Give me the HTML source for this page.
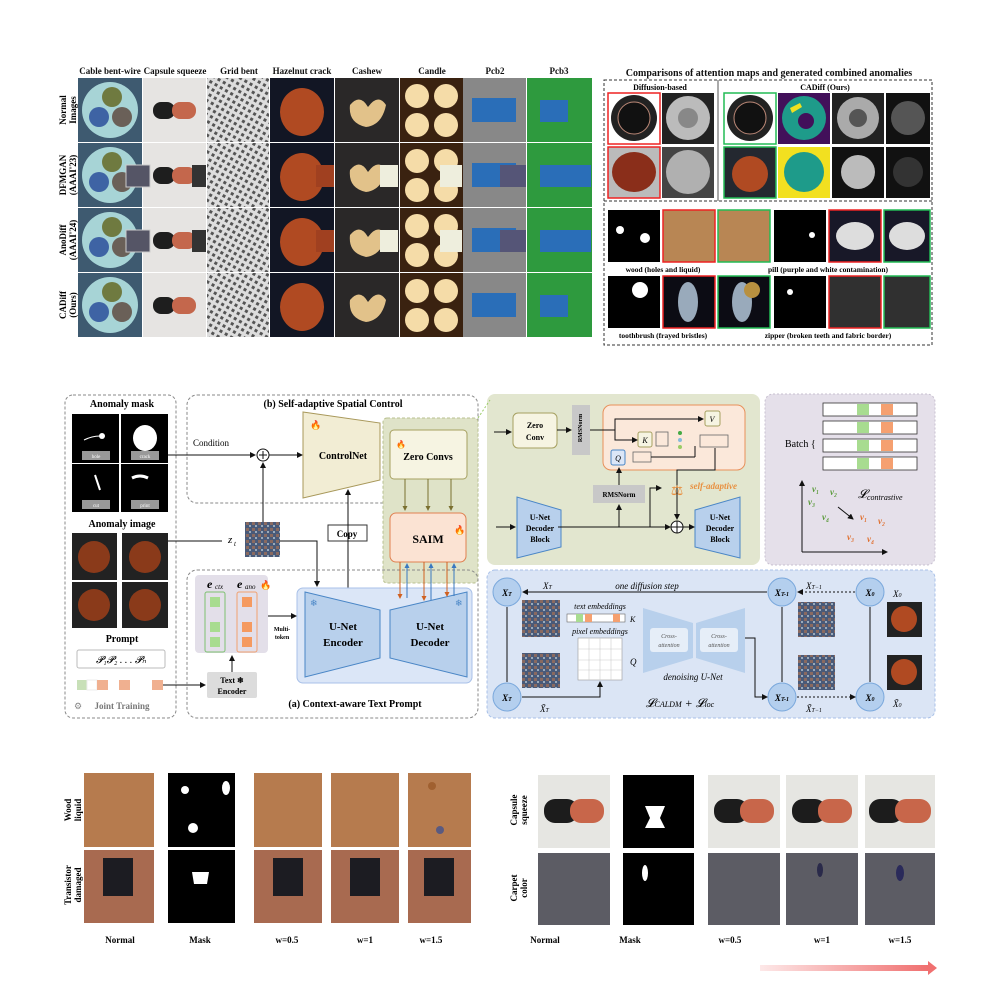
<!DOCTYPE html>
<html><head><meta charset="utf-8"><style>
body{margin:0;width:1000px;height:1000px;background:#fff;position:relative;overflow:hidden;font-family:"Liberation Serif",serif}
.a{position:absolute}
.h{position:absolute;font-weight:bold;font-size:9px;text-align:center;color:#111}
.rl{position:absolute;font-weight:bold;font-size:9px;transform:rotate(-90deg);text-align:center;width:64px;line-height:10px}
</style></head><body>
<!-- TOP LEFT GRID -->
<div class="h" style="left:78px;top:66px;width:64px">Cable bent-wire</div>
<div class="h" style="left:143px;top:66px;width:64px">Capsule squeeze</div>
<div class="h" style="left:207px;top:66px;width:64px">Grid bent</div>
<div class="h" style="left:270px;top:66px;width:64px">Hazelnut crack</div>
<div class="h" style="left:335px;top:66px;width:64px">Cashew</div>
<div class="h" style="left:400px;top:66px;width:64px">Candle</div>
<div class="h" style="left:463px;top:66px;width:64px">Pcb2</div>
<div class="h" style="left:527px;top:66px;width:64px">Pcb3</div>
<div class="rl" style="left:36px;top:100px">Normal<br>Images</div>
<div class="rl" style="left:36px;top:165px">DFMGAN<br>(AAAI'23)</div>
<div class="rl" style="left:36px;top:230px">AnoDiff<br>(AAAI'24)</div>
<div class="rl" style="left:36px;top:295px">CADiff<br>(Ours)</div>
<svg class="a" style="left:0;top:0" width="1000" height="345">
<defs>
<pattern id="grd" width="6" height="6" patternUnits="userSpaceOnUse" patternTransform="rotate(30)"><rect width="6" height="6" fill="#ddd"/><rect width="3" height="3" fill="#555"/></pattern>
</defs>
<g id="row">
</g>
</svg>
<svg class="a" style="left:0;top:0" width="1000" height="345" id="grid">
<!-- generated rows -->
<g>
<!-- row template using transforms -->
<g id="r0">
<rect x="78" y="78" width="64" height="64" fill="#3e5a70"/><circle cx="110" cy="110" r="28" fill="#a7d4d6"/><circle cx="112" cy="97" r="10" fill="#6f7a40"/><circle cx="99" cy="117" r="10" fill="#3e63a4"/><circle cx="122" cy="117" r="10" fill="#6a6058"/>
<rect x="143" y="78" width="63" height="64" fill="#e6e4e2"/><rect x="153" y="102" width="22" height="17" rx="8" fill="#1e1e1e"/><rect x="172" y="102" width="24" height="17" rx="8" fill="#c4674c"/>
<rect x="207" y="78" width="62" height="64" fill="url(#grd)"/>
<rect x="270" y="78" width="64" height="64" fill="#121624"/><ellipse cx="302" cy="112" rx="22" ry="24" fill="#b04a22"/>
<rect x="335" y="78" width="64" height="64" fill="#2a2828"/><path d="M350 105 q10 -12 18 2 q10 -14 18 -2 q-4 20 -20 22 q-18 -4 -16 -22z" fill="#e2c28a"/>
<rect x="400" y="78" width="63" height="64" fill="#3a2210"/><circle cx="417" cy="96" r="12" fill="#f5dca8"/><circle cx="446" cy="96" r="12" fill="#f5dca8"/><circle cx="417" cy="125" r="12" fill="#f5dca8"/><circle cx="446" cy="125" r="12" fill="#f5dca8"/>
<rect x="463" y="78" width="63" height="64" fill="#888"/><rect x="472" y="98" width="44" height="24" fill="#2a6eb8"/>
<rect x="527" y="78" width="65" height="64" fill="#2e9a3e"/><rect x="540" y="100" width="28" height="22" fill="#2a6eb8"/>
</g>
<use href="#r0" y="65"/><use href="#r0" y="130"/><use href="#r0" y="195"/>
<rect x="126" y="165" width="24" height="22" fill="#556" stroke="#ccc"/><rect x="192" y="165" width="14" height="22" fill="#333"/><rect x="316" y="165" width="18" height="22" fill="#a04020"/><rect x="380" y="165" width="18" height="22" fill="#eed" /><rect x="440" y="165" width="22" height="22" fill="#eed"/><rect x="500" y="165" width="26" height="22" fill="#557"/><rect x="565" y="165" width="26" height="22" fill="#2a6eb8"/>
<rect x="126" y="230" width="24" height="22" fill="#556" stroke="#ccc"/><rect x="192" y="230" width="14" height="22" fill="#333"/><rect x="316" y="230" width="18" height="22" fill="#a04020"/><rect x="380" y="230" width="18" height="22" fill="#eed"/><rect x="440" y="230" width="22" height="22" fill="#eed"/><rect x="500" y="230" width="26" height="22" fill="#557"/><rect x="565" y="230" width="26" height="22" fill="#2a6eb8"/>
</g>
</svg>
<!-- TOP RIGHT -->
<div class="h" style="left:604px;top:68px;width:330px;font-size:10px">Comparisons of attention maps and generated combined anomalies</div>
<svg class="a" style="left:0;top:0" width="1000" height="350">
<rect x="604" y="80" width="328" height="265" fill="none" stroke="#333" stroke-dasharray="3,2"/>
<line x1="604" y1="201" x2="932" y2="201" stroke="#333" stroke-dasharray="3,2"/>
<line x1="718" y1="80" x2="718" y2="201" stroke="#555"/>
<text x="660" y="90" font-size="8" font-weight="bold" text-anchor="middle">Diffusion-based</text>
<text x="825" y="90" font-size="8" font-weight="bold" text-anchor="middle">CADiff (Ours)</text>
<g>
<rect x="608" y="93" width="52" height="51" fill="#fff" stroke="#e22" stroke-width="1.5"/><circle cx="634" cy="118" r="23" fill="#222"/><circle cx="634" cy="118" r="16" fill="#111" stroke="#b87" />
<rect x="662" y="93" width="52" height="51" fill="#222"/><circle cx="688" cy="118" r="22" fill="#bbb"/><circle cx="688" cy="118" r="10" fill="#888"/>
<rect x="608" y="147" width="52" height="51" fill="#bbb" stroke="#e22" stroke-width="1.5"/><ellipse cx="634" cy="172" rx="22" ry="20" fill="#8a2e1a"/>
<rect x="662" y="147" width="52" height="51" fill="#444"/><circle cx="688" cy="172" r="22" fill="#b0b0b0"/>
<rect x="724" y="93" width="52" height="51" fill="#fff" stroke="#2b5" stroke-width="1.5"/><circle cx="750" cy="118" r="23" fill="#222"/><circle cx="750" cy="118" r="16" fill="#111" stroke="#b87"/>
<rect x="778" y="93" width="52" height="51" fill="#42105a"/><circle cx="804" cy="118" r="22" fill="#1e9b8a"/><circle cx="806" cy="121" r="8" fill="#42105a"/><path d="M790 108 l10 -5 l2 4 l-10 6z" fill="#f0e020"/>
<rect x="832" y="93" width="52" height="51" fill="#222"/><circle cx="858" cy="118" r="21" fill="#aaa"/><circle cx="858" cy="118" r="9" fill="#555"/>
<rect x="886" y="93" width="44" height="51" fill="#111"/><circle cx="908" cy="118" r="17" fill="#555"/>
<rect x="724" y="147" width="52" height="51" fill="#242830" stroke="#2b5" stroke-width="1.5"/><circle cx="750" cy="174" r="18" fill="#b04a22"/>
<rect x="778" y="147" width="52" height="51" fill="#f2e020"/><circle cx="804" cy="172" r="20" fill="#1e9b8a"/>
<rect x="832" y="147" width="52" height="51" fill="#111"/><circle cx="858" cy="172" r="17" fill="#bbb"/>
<rect x="886" y="147" width="44" height="51" fill="#111"/><circle cx="908" cy="172" r="15" fill="#333"/>
</g>
<g>
<rect x="608" y="210" width="52" height="52" fill="#000"/><circle cx="620" cy="230" r="4" fill="#fff"/><circle cx="645" cy="238" r="5" fill="#fff"/>
<rect x="663" y="210" width="52" height="52" fill="#b88654" stroke="#e22" stroke-width="1.5"/>
<rect x="718" y="210" width="52" height="52" fill="#b88654" stroke="#2b5" stroke-width="1.5"/>
<rect x="774" y="210" width="52" height="52" fill="#000"/><circle cx="812" cy="235" r="3" fill="#fff"/>
<rect x="829" y="210" width="52" height="52" fill="#181828" stroke="#e22" stroke-width="1.5"/><ellipse cx="855" cy="236" rx="19" ry="14" fill="#ddd"/>
<rect x="884" y="210" width="46" height="52" fill="#181828" stroke="#2b5" stroke-width="1.5"/><ellipse cx="907" cy="236" rx="18" ry="14" fill="#ddd"/>
<text x="663" y="272" font-size="7.5" font-weight="bold" text-anchor="middle">wood (holes and liquid)</text>
<text x="828" y="272" font-size="7.5" font-weight="bold" text-anchor="middle">pill (purple and white contamination)</text>
<rect x="608" y="276" width="52" height="52" fill="#000"/><circle cx="640" cy="290" r="8" fill="#fff"/>
<rect x="663" y="276" width="52" height="52" fill="#0c0c14" stroke="#e22" stroke-width="1.5"/><ellipse cx="688" cy="302" rx="10" ry="20" fill="#9ab"/>
<rect x="718" y="276" width="52" height="52" fill="#0c0c14" stroke="#2b5" stroke-width="1.5"/><ellipse cx="742" cy="302" rx="10" ry="20" fill="#9ab"/><circle cx="752" cy="290" r="8" fill="#b89040"/>
<rect x="774" y="276" width="52" height="52" fill="#000"/><circle cx="790" cy="292" r="3" fill="#fff"/>
<rect x="829" y="276" width="52" height="52" fill="#303030" stroke="#e22" stroke-width="1.5"/>
<rect x="884" y="276" width="46" height="52" fill="#303030" stroke="#2b5" stroke-width="1.5"/>
<text x="663" y="338" font-size="7.5" font-weight="bold" text-anchor="middle">toothbrush (frayed bristles)</text>
<text x="828" y="338" font-size="7.5" font-weight="bold" text-anchor="middle">zipper (broken teeth and fabric border)</text>
</g>
</svg>

<!-- MIDDLE DIAGRAM -->
<svg class="a" style="left:0;top:0" width="1000" height="1000" font-family="Liberation Serif, serif">
<defs>
<marker id="ar" markerWidth="6" markerHeight="6" refX="5" refY="3" orient="auto"><path d="M0 0L6 3L0 6z" fill="#111"/></marker>
<marker id="ao" markerWidth="5" markerHeight="5" refX="4" refY="2.5" orient="auto"><path d="M0 0L5 2.5L0 5z" fill="#d06020"/></marker>
<marker id="ab" markerWidth="5" markerHeight="5" refX="4" refY="2.5" orient="auto"><path d="M0 0L5 2.5L0 5z" fill="#3a78c0"/></marker>
<marker id="ag" markerWidth="5" markerHeight="5" refX="4" refY="2.5" orient="auto"><path d="M0 0L5 2.5L0 5z" fill="#7a7030"/></marker>
<pattern id="nz" width="6" height="6" patternUnits="userSpaceOnUse"><rect width="6" height="6" fill="#4a5a78"/><rect width="3" height="3" fill="#8a6a60"/><rect x="3" y="3" width="2" height="2" fill="#9ab"/></pattern>
</defs>
<!-- left dashed -->
<rect x="65" y="395" width="111" height="323" rx="8" fill="none" stroke="#888" stroke-dasharray="3,2"/>
<text x="122" y="407" font-size="10" font-weight="bold" text-anchor="middle">Anomaly mask</text>
<rect x="72" y="414" width="47" height="49" fill="#000"/><rect x="121" y="414" width="47" height="49" fill="#000"/><rect x="72" y="464" width="47" height="48" fill="#000"/><rect x="121" y="464" width="47" height="48" fill="#000"/>
<circle cx="102" cy="436" r="3" fill="#fff"/><path d="M84 440 q8 -4 16 -4" stroke="#fff" fill="none"/><ellipse cx="145" cy="438" rx="12" ry="13" fill="#fff"/>
<line x1="95" y1="475" x2="100" y2="490" stroke="#fff" stroke-width="2"/><path d="M132 478 q8 -4 16 0" stroke="#fff" stroke-width="3" fill="none"/>
<g font-size="5" fill="#fff" text-anchor="middle"><rect x="82" y="451" width="28" height="9" fill="#999"/><text x="96" y="458">hole</text><rect x="131" y="451" width="28" height="9" fill="#999"/><text x="145" y="458">crack</text><rect x="82" y="500" width="28" height="9" fill="#999"/><text x="96" y="507">cut</text><rect x="131" y="500" width="28" height="9" fill="#999"/><text x="145" y="507">print</text></g>
<text x="122" y="527" font-size="10" font-weight="bold" text-anchor="middle">Anomaly image</text>
<g><rect x="72" y="533" width="45" height="47" fill="#222"/><circle cx="94" cy="557" r="16" fill="#8a3a1a"/><rect x="122" y="533" width="46" height="47" fill="#222"/><circle cx="145" cy="557" r="16" fill="#8a3a1a"/><rect x="72" y="582" width="45" height="46" fill="#222"/><circle cx="94" cy="605" r="16" fill="#8a3a1a"/><rect x="122" y="582" width="46" height="46" fill="#222"/><circle cx="145" cy="605" r="16" fill="#8a3a1a"/></g>
<text x="122" y="642" font-size="10" font-weight="bold" text-anchor="middle">Prompt</text>
<rect x="77" y="650" width="88" height="18" rx="2" fill="#fff" stroke="#bbb"/>
<text x="121" y="663" font-size="10" font-style="italic" text-anchor="middle">𝓟₁𝓟₂ . . . 𝓟ₙ</text>
<g><rect x="77" y="680" width="10" height="10" fill="#c8e0b8"/><rect x="87" y="680" width="10" height="10" fill="#fff" stroke="#eee"/><rect x="97" y="680" width="11" height="10" fill="#f0b090"/><rect x="108" y="680" width="11" height="10" fill="#fff"/><rect x="119" y="680" width="11" height="10" fill="#f0b090"/><rect x="130" y="680" width="11" height="10" fill="#fff"/><rect x="141" y="680" width="11" height="10" fill="#fff"/><rect x="152" y="680" width="11" height="10" fill="#f0b090"/></g>
<text x="74" y="709" font-size="9" fill="#888">⚙</text><text x="122" y="709" font-size="9" font-weight="bold" fill="#777" text-anchor="middle">Joint Training</text>
<line x1="163" y1="685" x2="205" y2="685" stroke="#111" marker-end="url(#ar)"/>
<!-- (b) box -->
<rect x="187" y="395" width="291" height="108" rx="10" fill="none" stroke="#888" stroke-dasharray="3,2"/>
<text x="333" y="407" font-size="10" font-weight="bold" text-anchor="middle">(b) Self-adaptive Spatial Control</text>
<text x="193" y="446" font-size="9">Condition</text>
<line x1="168" y1="455" x2="255" y2="455" stroke="#111" marker-end="url(#ar)"/>
<circle cx="263" cy="455" r="6" fill="#fff" stroke="#111"/><path d="M259 455h8M263 451v8" stroke="#111"/>
<line x1="269" y1="455" x2="302" y2="455" stroke="#111" marker-end="url(#ar)"/>
<path d="M303 412L380 423L380 480L303 498z" fill="#f2edd4" stroke="#a8985a"/>
<text x="343" y="459" font-size="10" font-weight="bold" text-anchor="middle">ControlNet</text>
<text x="310" y="428" font-size="9" fill="#e85a10">🔥</text>
<!-- green zero convs -->
<rect x="383" y="418" width="95" height="165" rx="4" fill="#dfe3c8" stroke="#b8c090" stroke-dasharray="3,2"/>
<rect x="390" y="430" width="77" height="49" rx="4" fill="#f6f4e2" stroke="#a6a060"/>
<text x="428" y="460" font-size="10" font-weight="bold" text-anchor="middle">Zero Convs</text>
<g stroke="#7a7030" marker-end="url(#ag)"><line x1="405" y1="479" x2="405" y2="510"/><line x1="428" y1="479" x2="428" y2="510"/><line x1="451" y1="479" x2="451" y2="510"/></g>
<rect x="390" y="513" width="76" height="49" rx="6" fill="#fbe3d3" stroke="#e08050"/>
<text x="428" y="543" font-size="12" font-weight="bold" text-anchor="middle">SAIM</text>
<text x="454" y="533" font-size="9" fill="#e85a10">🔥</text>
<text x="396" y="447" font-size="8" fill="#e85a10">🔥</text>
<!-- zt -->
<rect x="245" y="522" width="35" height="35" fill="url(#nz)"/>
<text x="228" y="543" font-size="11" font-style="italic">z</text><text x="234" y="546" font-size="7" font-style="italic">t</text>
<line x1="168" y1="541" x2="222" y2="541" stroke="#111"/>
<line x1="263" y1="522" x2="263" y2="463" stroke="#111" marker-end="url(#ar)"/>
<path d="M280 541H317V586" fill="none" stroke="#111" marker-end="url(#ar)"/>
<rect x="328" y="525" width="39" height="16" fill="#fff" stroke="#333"/>
<text x="347" y="537" font-size="9" font-weight="bold" text-anchor="middle">Copy</text>
<line x1="348" y1="588" x2="348" y2="490" stroke="#111" marker-end="url(#ar)"/>
<!-- (a) box -->
<rect x="187" y="570" width="291" height="148" rx="10" fill="none" stroke="#888" stroke-dasharray="3,2"/>
<text x="355" y="707" font-size="10" font-weight="bold" text-anchor="middle">(a) Context-aware Text Prompt</text>
<rect x="297" y="588" width="175" height="95" rx="6" fill="#dbe6f7" stroke="#a8c0e8"/>
<path d="M305 592L380 610L380 658L305 677z" fill="#b8d0ec" stroke="#4a86c6"/>
<path d="M390 610L467 592L467 677L390 658z" fill="#b8d0ec" stroke="#4a86c6"/>
<text x="343" y="630" font-size="11" font-weight="bold" text-anchor="middle">U-Net</text><text x="343" y="646" font-size="11" font-weight="bold" text-anchor="middle">Encoder</text>
<text x="430" y="630" font-size="11" font-weight="bold" text-anchor="middle">U-Net</text><text x="430" y="646" font-size="11" font-weight="bold" text-anchor="middle">Decoder</text>
<text x="310" y="606" font-size="9" fill="#4a86c6">❄</text><text x="455" y="606" font-size="9" fill="#4a86c6">❄</text>
<g stroke-width="1"><line x1="400" y1="562" x2="400" y2="598" stroke="#d06020" marker-end="url(#ao)"/><line x1="407" y1="598" x2="407" y2="564" stroke="#3a78c0" marker-end="url(#ab)"/><line x1="424" y1="562" x2="424" y2="600" stroke="#d06020" marker-end="url(#ao)"/><line x1="431" y1="600" x2="431" y2="564" stroke="#3a78c0" marker-end="url(#ab)"/><line x1="447" y1="562" x2="447" y2="596" stroke="#d06020" marker-end="url(#ao)"/><line x1="454" y1="596" x2="454" y2="564" stroke="#3a78c0" marker-end="url(#ab)"/></g>
<!-- ctx ano -->
<rect x="195" y="575" width="73" height="78" rx="4" fill="#e3dfe9"/>
<text x="207" y="588" font-size="12" font-weight="bold" font-style="italic">e</text><text x="215" y="589" font-size="7" font-style="italic">ctx</text>
<text x="237" y="588" font-size="12" font-weight="bold" font-style="italic">e</text><text x="245" y="589" font-size="7" font-style="italic">ano</text>
<text x="260" y="588" font-size="9" fill="#e85a10">🔥</text>
<rect x="205" y="592" width="20" height="60" rx="2" fill="none" stroke="#7cc070"/><rect x="237" y="592" width="20" height="60" rx="2" fill="none" stroke="#f0a070"/>
<g fill="#a8dc90"><rect x="210" y="597" width="10" height="10"/><rect x="210" y="622" width="10" height="10"/><rect x="210" y="637" width="10" height="10"/></g>
<g fill="#f59a60"><rect x="242" y="597" width="10" height="10"/><rect x="242" y="622" width="10" height="10"/><rect x="242" y="637" width="10" height="10"/></g>
<line x1="268" y1="616" x2="296" y2="616" stroke="#111" marker-end="url(#ar)"/>
<text x="282" y="631" font-size="6" font-weight="bold" text-anchor="middle">Multi-</text><text x="282" y="639" font-size="6" font-weight="bold" text-anchor="middle">token</text>
<rect x="207" y="672" width="50" height="26" rx="2" fill="#dcdcdc"/>
<text x="232" y="683" font-size="8" font-weight="bold" text-anchor="middle">Text ❄</text><text x="232" y="694" font-size="8" font-weight="bold" text-anchor="middle">Encoder</text>
<line x1="232" y1="672" x2="232" y2="656" stroke="#111" marker-end="url(#ar)"/>

<!-- RIGHT: SAIM detail -->
<rect x="487" y="394" width="273" height="171" rx="8" fill="#e2e6cf"/>
<line x1="478" y1="418" x2="490" y2="400" stroke="#9c6" stroke-dasharray="2,2"/>
<line x1="494" y1="432" x2="511" y2="432" stroke="#111" marker-end="url(#ar)"/>
<rect x="513" y="413" width="44" height="35" rx="5" fill="#f6f4e2" stroke="#a6a060"/>
<text x="535" y="428" font-size="8" font-weight="bold" text-anchor="middle">Zero</text><text x="535" y="440" font-size="8" font-weight="bold" text-anchor="middle">Conv</text>
<line x1="557" y1="430" x2="571" y2="430" stroke="#111" marker-end="url(#ar)"/>
<rect x="572" y="405" width="18" height="50" fill="#c8c8c8"/>
<text x="584" y="430" font-size="6" font-weight="bold" text-anchor="middle" transform="rotate(-90 582 430)">RMSNorm</text>
<rect x="603" y="405" width="142" height="65" rx="8" fill="#fbe8da" stroke="#e8905a"/>
<path d="M590 430H615V419H703" fill="none" stroke="#111" marker-end="url(#ar)"/>
<path d="M615 430V440H637" fill="none" stroke="#111" marker-end="url(#ar)"/>
<rect x="705" y="411" width="15" height="15" rx="2" fill="#f6f4e2" stroke="#a6a060"/><text x="712" y="422" font-size="8" font-style="italic" text-anchor="middle">V</text>
<rect x="638" y="432" width="14" height="15" rx="2" fill="#f6f4e2" stroke="#a6a060"/><text x="645" y="443" font-size="8" font-style="italic" text-anchor="middle">K</text>
<rect x="611" y="450" width="14" height="15" rx="2" fill="#dbe6f7" stroke="#4a86c6"/><text x="618" y="461" font-size="8" font-style="italic" text-anchor="middle">Q</text>
<g fill="none" stroke="#666" stroke-width=".8"><rect x="656" y="432" width="12" height="14"/><rect x="633" y="452" width="18" height="10"/><rect x="700" y="435" width="28" height="12"/></g>
<circle cx="680" cy="433" r="2" fill="#4a4"/><circle cx="680" cy="440" r="2" fill="#8bd"/><circle cx="680" cy="447" r="2" fill="#9c6"/>
<line x1="651" y1="457" x2="695" y2="457" stroke="#111"/><line x1="695" y1="457" x2="695" y2="446" stroke="#111"/>
<rect x="593" y="485" width="52" height="18" fill="#c8c8c8"/><text x="619" y="497" font-size="7" font-weight="bold" text-anchor="middle">RMSNorm</text>
<line x1="619" y1="485" x2="619" y2="468" stroke="#111" marker-end="url(#ar)"/>
<line x1="619" y1="527" x2="619" y2="505" stroke="#111" marker-end="url(#ar)"/>
<path d="M516 510L560 497L560 558L516 547z" fill="#b8d0ec" stroke="#4a86c6" transform="matrix(-1 0 0 1 1077 0)"/>
<text x="540" y="520" font-size="8" font-weight="bold" text-anchor="middle">U-Net</text><text x="540" y="531" font-size="8" font-weight="bold" text-anchor="middle">Decoder</text><text x="540" y="542" font-size="8" font-weight="bold" text-anchor="middle">Block</text>
<path d="M695 510L740 497L740 558L695 547z" fill="#b8d0ec" stroke="#4a86c6"/>
<text x="720" y="520" font-size="8" font-weight="bold" text-anchor="middle">U-Net</text><text x="720" y="531" font-size="8" font-weight="bold" text-anchor="middle">Decoder</text><text x="720" y="542" font-size="8" font-weight="bold" text-anchor="middle">Block</text>
<line x1="496" y1="527" x2="515" y2="527" stroke="#111" marker-end="url(#ar)"/>
<line x1="558" y1="527" x2="670" y2="527" stroke="#111" marker-end="url(#ar)"/>
<circle cx="677" cy="527" r="6" fill="#fff" stroke="#111"/><path d="M671 527h12M677 521v12" stroke="#111"/>
<line x1="683" y1="527" x2="694" y2="527" stroke="#111" marker-end="url(#ar)"/>
<path d="M650 527V488H661" fill="none" stroke="#111" marker-end="url(#ar)"/>
<path d="M715 448V470H677V519" fill="none" stroke="#111" marker-end="url(#ar)"/>
<text x="677" y="495" font-size="14" fill="#e89040" text-anchor="middle">⚖</text>
<text x="690" y="489" font-size="9" font-style="italic" font-weight="bold" fill="#e89040">self-adaptive</text>
<!-- purple -->
<rect x="765" y="394" width="170" height="171" rx="8" fill="#e5e0ea" stroke="#c8c0d0" stroke-dasharray="2,2"/>
<text x="785" y="447" font-size="10">Batch {</text>
<g fill="#fff" stroke="#333" stroke-width=".8"><rect x="823" y="403" width="94" height="13"/><rect x="823" y="421" width="94" height="13"/><rect x="823" y="439" width="94" height="13"/><rect x="823" y="457" width="94" height="13"/></g>
<g fill="#a8dc90"><rect x="857" y="404" width="12" height="11"/><rect x="857" y="422" width="12" height="11"/><rect x="857" y="440" width="12" height="11"/><rect x="857" y="458" width="12" height="11"/></g>
<g fill="#f5a070"><rect x="881" y="404" width="12" height="11"/><rect x="881" y="422" width="12" height="11"/><rect x="881" y="440" width="12" height="11"/><rect x="881" y="458" width="12" height="11"/></g>
<line x1="802" y1="552" x2="802" y2="481" stroke="#111" marker-end="url(#ar)"/><line x1="802" y1="552" x2="887" y2="552" stroke="#111" marker-end="url(#ar)"/>
<g font-size="9" font-style="italic" font-weight="bold" fill="#5a9a3a"><text x="812" y="492">v₁</text><text x="830" y="495">v₂</text><text x="808" y="505">v₃</text><text x="822" y="520">v₄</text></g>
<g font-size="9" font-style="italic" font-weight="bold" fill="#e07030"><text x="860" y="520">v₁</text><text x="878" y="524">v₂</text><text x="847" y="540">v₃</text><text x="867" y="542">v₄</text></g>
<line x1="838" y1="507" x2="853" y2="519" stroke="#111" marker-end="url(#ar)"/>
<text x="858" y="498" font-size="12" font-style="italic">𝓛</text><text x="867" y="500" font-size="8" font-style="italic">contrastive</text>
<!-- blue bottom -->
<rect x="487" y="570" width="448" height="148" rx="8" fill="#dbe5f5" stroke="#a8c0e8" stroke-dasharray="3,2"/>
<g fill="#b4cfee" stroke="#7aa8dc"><circle cx="507" cy="592" r="14"/><circle cx="507" cy="697" r="14"/><circle cx="782" cy="592" r="14"/><circle cx="782" cy="697" r="14"/><circle cx="870" cy="592" r="14"/><circle cx="870" cy="697" r="14"/></g>
<g font-size="9" font-weight="bold" font-style="italic" text-anchor="middle"><text x="507" y="596">X<tspan font-size="6">T</tspan></text><text x="507" y="701">X<tspan font-size="6">T</tspan></text><text x="782" y="596">X<tspan font-size="6">T-1</tspan></text><text x="782" y="701">X<tspan font-size="6">T-1</tspan></text><text x="870" y="596">X<tspan font-size="6">0</tspan></text><text x="870" y="701">X<tspan font-size="6">0</tspan></text></g>
<line x1="767" y1="592" x2="523" y2="592" stroke="#111" marker-end="url(#ar)"/>
<text x="647" y="589" font-size="9" font-style="italic" text-anchor="middle">one diffusion step</text>
<text x="543" y="589" font-size="9" font-style="italic">X<tspan font-size="6">T</tspan></text>
<text x="806" y="589" font-size="9" font-style="italic">X<tspan font-size="6">T−1</tspan></text>
<line x1="855" y1="592" x2="798" y2="592" stroke="#111" stroke-dasharray="2,2" marker-end="url(#ar)"/>
<text x="893" y="597" font-size="9" font-style="italic">X<tspan font-size="6">0</tspan></text>
<text x="893" y="707" font-size="9" font-style="italic">X̃<tspan font-size="6">0</tspan></text>
<line x1="507" y1="607" x2="507" y2="682" stroke="#111"/>
<line x1="782" y1="607" x2="782" y2="682" stroke="#111"/><line x1="870" y1="607" x2="870" y2="682" stroke="#111"/>
<rect x="522" y="600" width="38" height="37" fill="url(#nz)"/><rect x="522" y="653" width="38" height="35" fill="url(#nz)"/>
<rect x="798" y="602" width="37" height="35" fill="url(#nz)"/><rect x="798" y="655" width="37" height="35" fill="url(#nz)"/>
<rect x="887" y="602" width="35" height="35" fill="#222"/><circle cx="904" cy="619" r="13" fill="#b04a22"/><rect x="887" y="655" width="35" height="35" fill="#222"/><circle cx="904" cy="672" r="13" fill="#b04a22"/>
<text x="600" y="609" font-size="8" font-style="italic" text-anchor="middle">text embeddings</text>
<rect x="567" y="614" width="58" height="8" fill="#fff" stroke="#666" stroke-width=".6"/><rect x="576" y="614" width="7" height="8" fill="#a8dc90"/><rect x="585" y="614" width="7" height="8" fill="#f5a070"/><rect x="613" y="614" width="7" height="8" fill="#f5a070"/>
<text x="630" y="622" font-size="8" font-style="italic">K</text>
<text x="600" y="634" font-size="8" font-style="italic" text-anchor="middle">pixel embeddings</text>
<rect x="578" y="638" width="44" height="42" fill="#fff" stroke="#999" stroke-width=".6"/>
<g stroke="#ccc" stroke-width=".6"><line x1="589" y1="638" x2="589" y2="680"/><line x1="600" y1="638" x2="600" y2="680"/><line x1="611" y1="638" x2="611" y2="680"/><line x1="578" y1="649" x2="622" y2="649"/><line x1="578" y1="660" x2="622" y2="660"/><line x1="578" y1="670" x2="622" y2="670"/></g>
<text x="630" y="665" font-size="9" font-style="italic">Q</text>
<path d="M522 697H600V682" fill="none" stroke="#111" marker-end="url(#ar)"/>
<text x="540" y="712" font-size="9" font-style="italic">X̃<tspan font-size="6">T</tspan></text>
<path d="M643 608L693 623L693 658L643 673z" fill="#b8d0ec"/><path d="M696 623L745 608L745 673L696 658z" fill="#b8d0ec"/>
<rect x="650" y="628" width="38" height="24" rx="3" fill="#e6eef8"/><rect x="700" y="628" width="38" height="24" rx="3" fill="#e6eef8"/>
<g font-size="6" font-style="italic" fill="#555" text-anchor="middle"><text x="669" y="638">Cross-</text><text x="669" y="647">attention</text><text x="719" y="638">Cross-</text><text x="719" y="647">attention</text></g>
<text x="693" y="680" font-size="9" font-style="italic" text-anchor="middle">denoising U-Net</text>
<text x="680" y="707" font-size="12" font-style="italic" text-anchor="middle">𝓛<tspan font-size="8">CALDM</tspan> + 𝓛<tspan font-size="8">loc</tspan></text>
<path d="M745 638H755V697H767" fill="none" stroke="#111" marker-end="url(#ar)"/>
<line x1="797" y1="697" x2="855" y2="697" stroke="#111" stroke-dasharray="2,2" marker-end="url(#ar)"/>
<text x="806" y="712" font-size="9" font-style="italic">X̃<tspan font-size="6">T−1</tspan></text>

<!-- BOTTOM LEFT -->
<g font-weight="bold" font-size="9" text-anchor="middle">
<text transform="translate(71 810) rotate(-90)">Wood</text><text transform="translate(81 810) rotate(-90)">liquid</text>
<text transform="translate(71 885) rotate(-90)">Transistor</text><text transform="translate(81 885) rotate(-90)">damaged</text>
<text x="120" y="943">Normal</text><text x="200" y="943">Mask</text><text x="287" y="943">w=0.5</text><text x="365" y="943">w=1</text><text x="431" y="943">w=1.5</text>
</g>
<g>
<rect x="84" y="773" width="70" height="74" fill="#b67b4e"/><rect x="168" y="773" width="67" height="74" fill="#000"/><rect x="254" y="773" width="68" height="74" fill="#b67b4e"/><rect x="331" y="773" width="68" height="74" fill="#b67b4e"/><rect x="408" y="773" width="63" height="74" fill="#b67b4e"/>
<circle cx="185" cy="790" r="4" fill="#fff"/><ellipse cx="226" cy="788" rx="4" ry="7" fill="#fff"/><ellipse cx="193" cy="828" rx="5" ry="5" fill="#fff"/>
<circle cx="432" cy="786" r="4" fill="#a06030"/><circle cx="440" cy="830" r="4" fill="#5a5a80"/>
<rect x="84" y="850" width="70" height="73" fill="#a86a50"/><rect x="168" y="850" width="67" height="73" fill="#000"/><rect x="254" y="850" width="68" height="73" fill="#a86a50"/><rect x="331" y="850" width="68" height="73" fill="#a86a50"/><rect x="408" y="850" width="63" height="73" fill="#a86a50"/>
<path d="M192 872h17l-2 12h-13z" fill="#fff"/>
<g fill="#1c1c22"><rect x="103" y="858" width="30" height="38"/><rect x="273" y="858" width="30" height="38"/><rect x="350" y="858" width="30" height="38"/><rect x="424" y="858" width="30" height="38"/></g>
</g>
<!-- BOTTOM RIGHT -->
<g font-weight="bold" font-size="9" text-anchor="middle">
<text transform="translate(517 810) rotate(-90)">Capsule</text><text transform="translate(527 810) rotate(-90)">squeeze</text>
<text transform="translate(517 888) rotate(-90)">Carpet</text><text transform="translate(527 888) rotate(-90)">color</text>
<text x="545" y="943">Normal</text><text x="630" y="943">Mask</text><text x="730" y="943">w=0.5</text><text x="822" y="943">w=1</text><text x="900" y="943">w=1.5</text>
</g>
<g>
<rect x="538" y="775" width="72" height="73" fill="#e6e6e2"/><rect x="623" y="775" width="71" height="73" fill="#000"/><rect x="708" y="775" width="72" height="73" fill="#e6e6e2"/><rect x="786" y="775" width="72" height="73" fill="#e6e6e2"/><rect x="865" y="775" width="70" height="73" fill="#e6e6e2"/>
<g><rect x="544" y="799" width="34" height="24" rx="11" fill="#1c1c1c"/><rect x="570" y="799" width="34" height="24" rx="11" fill="#c8664a"/><rect x="714" y="799" width="34" height="24" rx="11" fill="#1c1c1c"/><rect x="740" y="799" width="34" height="24" rx="11" fill="#c8664a"/><rect x="792" y="799" width="34" height="24" rx="11" fill="#1c1c1c"/><rect x="818" y="799" width="34" height="24" rx="11" fill="#c8664a"/><rect x="869" y="799" width="34" height="24" rx="11" fill="#1c1c1c"/><rect x="895" y="799" width="36" height="24" rx="11" fill="#c8664a"/></g>
<path d="M645 806h20l-5 12l5 10h-20l5-10z" fill="#fff"/>
<rect x="538" y="853" width="72" height="72" fill="#5c5c64"/><rect x="623" y="853" width="71" height="72" fill="#000"/><rect x="708" y="853" width="72" height="72" fill="#5c5c64"/><rect x="786" y="853" width="72" height="72" fill="#5c5c64"/><rect x="865" y="853" width="70" height="72" fill="#5c5c64"/>
<ellipse cx="645" cy="873" rx="3" ry="8" fill="#fff"/><ellipse cx="820" cy="870" rx="3" ry="7" fill="#2a2a4a"/><ellipse cx="900" cy="873" rx="4" ry="8" fill="#2a2a5a"/>
</g>
<defs><linearGradient id="pg"><stop offset="0" stop-color="#fde8e8"/><stop offset="1" stop-color="#f07070"/></linearGradient></defs>
<rect x="760" y="965" width="168" height="6" fill="url(#pg)"/><path d="M928 961L937 968L928 975z" fill="#f07070"/>
</svg>
</body></html>
